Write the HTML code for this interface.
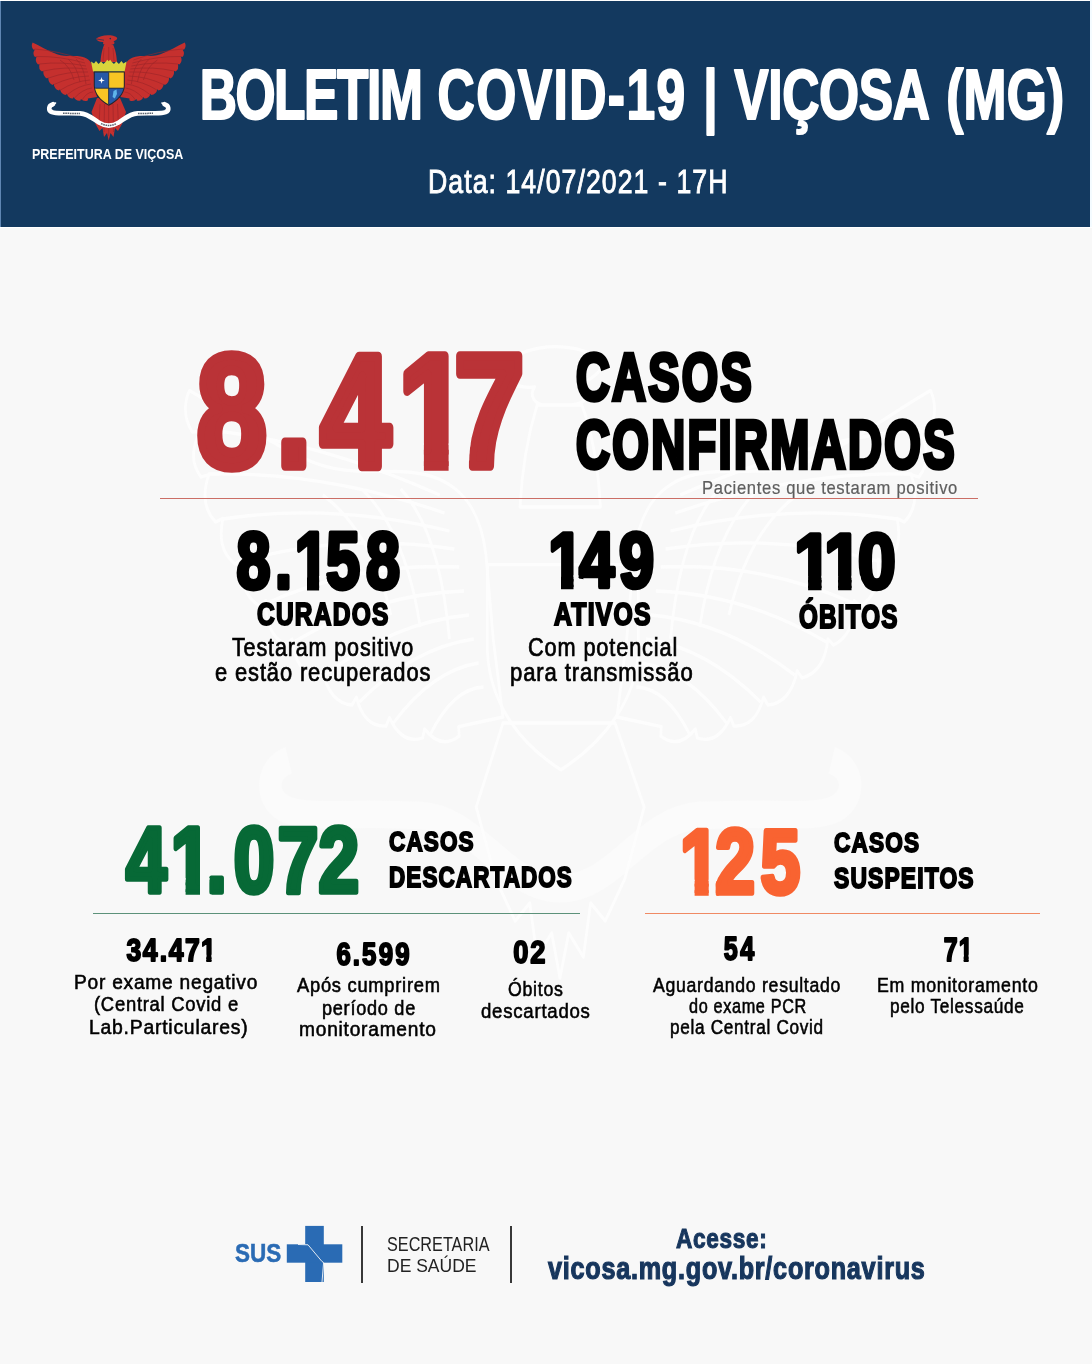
<!DOCTYPE html>
<html lang="pt-BR">
<head>
<meta charset="utf-8">
<title>Boletim COVID-19 | Viçosa (MG)</title>
<style>
html,body{margin:0;padding:0;}
body{width:1092px;height:1364px;position:relative;overflow:hidden;background:#f8f8f8;font-family:"Liberation Sans",sans-serif;font-weight:700;}
.t{position:absolute;white-space:nowrap;line-height:1;transform-origin:0 0;margin:0;padding:0;}
header,section,footer{position:absolute;left:0;top:0;width:1092px;height:0;}
.bar{position:absolute;left:1px;top:1px;width:1089px;height:225.7px;background:#13395f;}
.edge-l{position:absolute;left:0;top:1px;width:1px;height:226px;background:#5f86b2;}
.edge-t{position:absolute;left:0;top:0;width:1092px;height:1px;background:#ffffff;}
.edge-r{position:absolute;left:1090px;top:0;width:2px;height:227px;background:#f4fbff;}
.edge-b{position:absolute;left:0;top:226.7px;width:1092px;height:1.3px;background:#ffffff;}
.rule{position:absolute;height:1px;}
.vr{position:absolute;width:1.6px;background:#383838;}
svg{position:absolute;overflow:visible;}
svg.num{pointer-events:none;}
svg.num text{font-family:"Liberation Sans",sans-serif;font-weight:700;}
</style>
</head>
<body>
<header>
  <div class="bar"></div><div class="edge-l"></div><div class="edge-t"></div><div class="edge-r"></div><div class="edge-b"></div>
  <svg id="brasao" width="220" height="170" viewBox="0 0 220 170" style="left:0;top:0;">
  <defs>
    <path id="asaP" d="M 93.5 70 C 92.5 63 89 58.5 82 56.8 C 74 55 66 57.5 57 54.2 C 48 51 40 46 32.6 42.6 Q 30.7 46.2 33.2 49.5 L 34.8 49.4 Q 32.0 53.8 35.0 57.0 L 36.6 56.6 Q 34.5 61.6 38.0 64.5 L 39.5 63.9 Q 38.1 69.1 42.0 71.5 L 43.4 70.7 Q 42.7 76.3 47.0 78.5 L 48.3 77.6 Q 48.1 83.2 52.5 85.0 L 53.7 84.0 Q 54.3 89.4 59.0 90.5 L 60.0 89.3 Q 61.3 94.6 66.0 95.0 L 66.9 93.7 Q 68.5 98.7 73.0 98.5 L 73.7 97.1 Q 76.2 101.6 80.5 100.5 L 80.9 99.0 Q 84.3 102.5 88.0 100.2 L 87.9 98.6 L 97 97 L 95 84 Z"/>
    <path id="penasP" d="M 84.0 60.0 Q 58.6 50.8 34.7 49.0 M 85.0 63.0 Q 60.0 56.0 36.5 56.5 M 86.0 66.0 Q 62.0 61.2 39.5 64.0 M 87.0 69.0 Q 64.5 66.2 43.5 71.0 M 88.0 72.0 Q 67.5 71.2 48.5 78.0 M 89.0 76.0 Q 70.8 76.5 54.0 84.5 M 90.0 80.0 Q 74.5 81.2 60.5 90.0 M 91.0 84.0 Q 78.5 85.5 67.5 94.5 M 92.0 88.0 Q 82.5 89.2 74.5 98.0 M 93.0 92.0 Q 86.8 92.2 82.0 100.0 M 60 60 Q 70 66 74 80 M 68 59 Q 77 66 80 82 M 76 59 Q 84 66 86 84"/>
    <path id="caudaP" d="M 97 98 L 120 98 L 126 112 L 122 124 L 118 131 L 115 128 L 113.5 137 L 110.5 133 L 108.7 140.5 L 107 133 L 104 137 L 102.5 128 L 99.5 131 L 95.5 124 L 91.5 112 Z"/>
    <path id="escudoP" d="M 93.8 71.6 L 124.8 71.6 L 124.8 86 C 124.4 94 118 101 108.9 105.8 C 99.6 101 94.2 94 93.8 86 Z"/>
    <path id="cabecaP" d="M 100.5 62 C 101 54 102.5 49 104 45 L 113.2 45 C 115 49 116.5 54 117 62 Z M 96 38.8 C 99 36.5 104 35 109 35.3 C 113 35.5 116.5 36.6 117.2 38 C 117.6 39.5 115 40.5 113.5 41.5 C 115.5 42.5 114.5 44.8 111 45 L 105 45 C 103 44.5 102.5 43 103.5 42 C 100.5 42.3 97.5 41.5 96 38.8 Z"/>
    <path id="faixaP" d="M 53 104.2 C 48.5 105.5 47.8 110.2 52 112.2 C 56 113.8 62 113.2 70 113.2 L 80 113.4 C 88 113.8 93 119 99 122.6 C 105.5 126.6 112 126.6 118.5 122.6 C 124.5 119 129.5 113.8 137.5 113.4 L 147.5 113.2 C 155.5 113.2 161.5 113.8 165.5 112.2 C 169.7 110.2 169 105.5 164.5 104.2"/>
  </defs>
  <g id="asa">
    <use href="#asaP" fill="#c5302e"/>
    <use href="#penasP" fill="none" stroke="#9c2428" stroke-width="0.9" opacity="0.7"/>
  </g>
  <use href="#asa" transform="translate(217.4,0) scale(-1,1)"/>
  <!-- tail -->
  <use href="#caudaP" fill="#c5302e"/>
  <path d="M 100 104 L 99 126 M 104.5 104 L 104 132 M 108.7 104 L 108.7 136 M 113 104 L 113.5 132 M 117.5 104 L 118.5 126" stroke="#9c2428" stroke-width="0.9" fill="none" opacity="0.75"/>
  <!-- legs -->
  <path d="M 101.5 99 L 93.5 112 M 116 99 L 124 112" stroke="#c5302e" stroke-width="2.2" stroke-linecap="round" fill="none"/>
  <!-- neck & head -->
  <use href="#cabecaP" fill="#c5302e"/>
  <path d="M 104 48 L 103 61 M 108.7 47 L 108.7 61 M 113 48 L 114 61" stroke="#9c2428" stroke-width="0.8" fill="none" opacity="0.7"/>
  <path d="M 96.5 39 L 104 40.2" stroke="#14385f" stroke-width="0.7" fill="none"/>
  <circle cx="110.3" cy="38.6" r="0.8" fill="#14385f"/>
  <!-- crown -->
  <path d="M 91 61.5 L 94 63.5 L 96 61 L 98.5 64 L 101 61.5 L 103.5 64 L 106 61.5 L 107.2 59.8 L 108.7 61.2 L 110.2 59.8 L 111.4 61.5 L 113.9 64 L 116.4 61.5 L 118.9 64 L 121.4 61 L 123.4 63.5 L 126.6 61.5 L 124.6 71.5 L 93 71.5 Z" fill="#d9d43c"/>
  <!-- shield -->
  <use href="#escudoP" fill="#23252d"/>
  <clipPath id="esc"><path d="M 94.8 72.6 L 123.8 72.6 L 123.8 86 C 123.4 93.4 117.4 100 108.9 104.6 C 100.2 100 95.2 93.4 94.8 86 Z"/></clipPath>
  <g clip-path="url(#esc)">
    <rect x="94" y="72" width="14.7" height="16.2" fill="#2758a6"/>
    <rect x="108.7" y="72" width="16" height="16.2" fill="#f8c524"/>
    <rect x="94" y="88.2" width="14.7" height="18" fill="#f8c524"/>
    <rect x="108.7" y="88.2" width="16" height="18" fill="#2758a6"/>
    <path d="M 101.5 77 L 102.2 79.6 L 104.8 80.4 L 102.2 81.2 L 101.5 83.8 L 100.8 81.2 L 98.2 80.4 L 100.8 79.6 Z" fill="#ffffff"/>
    <path d="M 113.5 91 L 116.5 89.6 L 117 94 L 114.8 98.5 L 112.6 97 Z" fill="#5fb4ea"/>
    <path d="M 108.7 72 L 108.7 106 M 94 88.2 L 125 88.2" stroke="#20304a" stroke-width="0.9"/>
  </g>
  <!-- ribbon -->
  <use href="#faixaP" fill="none" stroke="#ffffff" stroke-width="4.6" stroke-linecap="round" stroke-linejoin="round"/>
  <path d="M 50.5 106.5 L 55.5 103 M 167 106.5 L 162 103" stroke="#ffffff" stroke-width="1.6" stroke-linecap="round"/>
  <path d="M 63 113.3 L 80 113.5 M 138 113.5 L 153 113.3 M 101 123.6 Q 108.7 127.3 116.5 123.6" stroke="#5b6470" stroke-width="1.5" fill="none" stroke-dasharray="1.6 0.7"/>
</svg>
<div class="t" style="left:32.39px;top:146.95px;font-size:14.49px;transform:scaleX(0.8608);color:#ffffff;">PREFEITURA DE VIÇOSA</div>
<svg class="num" width="1092" height="1364" viewBox="0 0 1092 1364" style="left:0;top:0;"><text transform="scale(0.7377,1)" x="270.61 319.11 371.53 412.26 456.92 497.66 515.13 536.09 593.22 645.56 701.81 750.29 771.59 823.94 849.11 889.85 910.81 953.44 974.40 995.30 1041.39 1060.29 1110.23 1164.06 1210.15 1231.11 1282.66 1306.23 1364.72 1419.36" y="119.25" font-size="69.86" fill="#ffffff" stroke="#ffffff" stroke-width="2.10" stroke-linejoin="round">BOLETIM COVID-19 | VIÇOSA (MG)</text></svg>
<div class="t" style="left:428.33px;top:164.93px;font-size:33.33px;transform:scaleX(0.7995);color:#ffffff;font-weight:400;-webkit-text-stroke:0.028em #ffffff;letter-spacing:0.04em;">Data: 14/07/2021 - 17H</div>
</header>
<svg id="marca" width="1092" height="1364" viewBox="0 0 1092 1364" style="left:0;top:0;" aria-hidden="true">
  <g transform="translate(30.6,135) scale(4.87,6.0)" fill="none" stroke="#ffffff" stroke-width="0.55" stroke-linejoin="round" opacity="0.75">
    <use href="#asaP"/><use href="#penasP"/>
    <g transform="translate(217.4,0) scale(-1,1)"><use href="#asaP"/><use href="#penasP"/></g>
    <use href="#caudaP"/><use href="#escudoP"/><use href="#cabecaP"/>
    <use href="#faixaP" stroke-width="4.6" opacity="0.5"/>
  </g>
</svg>
<section id="confirmados">
<svg class="num" width="1092" height="1364" viewBox="0 0 1092 1364" style="left:0;top:0;"><clipPath id="c8417"><path clip-rule="evenodd" d="M0 0H1092V1364H0ZM400.6 443.5H423.9V473.1H400.6ZM448.6 443.5L470.3 443.5L470.3 441.8L470.3 444.0L470.2 446.2L469.9 448.4L469.6 450.6L469.6 452.8L469.3 455.0L469.3 457.2L469.3 459.5L468.9 461.7L468.9 463.9L468.9 466.1L468.9 468.3L469.6 470.5L470.3 472.7L470.3 473.1L448.6 473.1Z"/></clipPath><g clip-path="url(#c8417)"><text transform="scale(0.7797,1)" x="252.80 354.70 411.34 511.11 583.03" y="466.28" font-size="160.52" fill="#ba3337" stroke="#ba3337" stroke-width="9.63" stroke-linejoin="round">8.417</text></g></svg>
<div class="t" style="left:575.73px;top:343.45px;font-size:67.40px;transform:scaleX(0.6942);color:#000000;-webkit-text-stroke:0.065em #000000;letter-spacing:0.05em;">CASOS</div>
<div class="t" style="left:575.73px;top:411.39px;font-size:67.92px;transform:scaleX(0.6922);color:#000000;-webkit-text-stroke:0.065em #000000;letter-spacing:0.05em;">CONFIRMADOS</div>
<div class="t" style="left:701.75px;top:480.32px;font-size:17.86px;transform:scaleX(0.9300);color:#5e5e5e;font-weight:400;-webkit-text-stroke:0.012em #5e5e5e;letter-spacing:0.04em;">Pacientes que testaram positivo</div>
  <div class="rule" style="left:160px;top:498px;width:818px;background:#cb6e66;"></div>
</section>
<section id="resumo">
<svg class="num" width="1092" height="1364" viewBox="0 0 1092 1364" style="left:0;top:0;"><clipPath id="c8158"><path clip-rule="evenodd" d="M0 0H1092V1364H0ZM294.7 576.1H307.0V592.4H294.7ZM319.1 576.1L326.3 576.1L326.3 576.0L326.5 577.1L326.6 578.2L326.9 579.2L327.2 580.3L327.5 581.4L328.1 582.5L328.6 583.6L329.2 584.7L329.8 585.8L330.7 586.9L330.7 587.9L330.7 589.0L330.7 590.1L330.7 591.2L330.7 592.4L319.1 592.4Z"/></clipPath><g clip-path="url(#c8158)"><text transform="scale(0.7715,1)" x="306.50 356.33 381.97 422.44 474.55" y="588.04" font-size="79.09" fill="#000000" stroke="#000000" stroke-width="4.75" stroke-linejoin="round">8.158</text></g></svg>
<div class="t" style="left:256.85px;top:600.26px;font-size:30.78px;transform:scaleX(0.7970);color:#000000;-webkit-text-stroke:0.065em #000000;letter-spacing:0.05em;">CURADOS</div>
<div class="t" style="left:231.88px;top:635.40px;font-size:25.00px;transform:scaleX(0.8611);color:#000000;font-weight:400;-webkit-text-stroke:0.028em #000000;letter-spacing:0.04em;">Testaram positivo</div>
<div class="t" style="left:214.84px;top:660.40px;font-size:25.00px;transform:scaleX(0.8760);color:#000000;font-weight:400;-webkit-text-stroke:0.028em #000000;letter-spacing:0.04em;">e estão recuperados</div>
<svg class="num" width="1092" height="1364" viewBox="0 0 1092 1364" style="left:0;top:0;"><clipPath id="c149"><path clip-rule="evenodd" d="M0 0H1092V1364H0ZM548.3 575.3H561.0V591.6H548.3ZM573.5 575.3L578.5 575.3L578.5 575.2L578.5 576.3L578.5 577.4L579.1 578.5L585.4 579.6L585.4 580.7L585.4 581.7L585.4 582.8L585.4 583.9L585.4 585.0L585.4 586.1L585.4 587.2L585.4 588.2L585.4 589.3L585.4 590.4L585.4 591.6L573.5 591.6Z"/></clipPath><g clip-path="url(#c149)"><text transform="scale(0.8026,1)" x="683.10 721.69 771.36" y="587.25" font-size="78.70" fill="#000000" stroke="#000000" stroke-width="4.72" stroke-linejoin="round">149</text></g></svg>
<div class="t" style="left:553.80px;top:600.26px;font-size:30.78px;transform:scaleX(0.8052);color:#000000;-webkit-text-stroke:0.065em #000000;letter-spacing:0.05em;">ATIVOS</div>
<div class="t" style="left:527.54px;top:635.00px;font-size:25.00px;transform:scaleX(0.8690);color:#000000;font-weight:400;-webkit-text-stroke:0.028em #000000;letter-spacing:0.04em;">Com potencial</div>
<div class="t" style="left:509.90px;top:660.10px;font-size:25.00px;transform:scaleX(0.8835);color:#000000;font-weight:400;-webkit-text-stroke:0.028em #000000;letter-spacing:0.04em;">para transmissão</div>
<svg class="num" width="1092" height="1364" viewBox="0 0 1092 1364" style="left:0;top:0;"><clipPath id="c110"><path clip-rule="evenodd" d="M0 0H1092V1364H0ZM794.6 575.8H808.1V592.0H794.6ZM821.5 575.8H838.1V592.0H821.5ZM851.5 575.8L860.2 575.8L860.2 575.7L860.5 576.8L860.9 577.9L861.2 579.0L861.6 580.0L861.9 581.1L862.4 582.2L863.1 583.3L863.8 584.3L864.2 585.4L864.2 586.5L864.2 587.6L864.2 588.6L864.2 589.7L864.2 590.8L864.2 592.0L851.5 592.0Z"/></clipPath><g clip-path="url(#c110)"><text transform="scale(0.8664,1)" x="916.83 951.46 990.20" y="587.67" font-size="78.31" fill="#000000" stroke="#000000" stroke-width="4.70" stroke-linejoin="round">110</text></g></svg>
<div class="t" style="left:798.76px;top:600.77px;font-size:32.47px;transform:scaleX(0.7460);color:#000000;-webkit-text-stroke:0.065em #000000;letter-spacing:0.05em;">ÓBITOS</div>
</section>
<section id="descartados">
<svg class="num" width="1092" height="1364" viewBox="0 0 1092 1364" style="left:0;top:0;"><clipPath id="c41072"><path clip-rule="evenodd" d="M0 0H1092V1364H0ZM171.2 878.0H185.6V896.5H171.2ZM200.0 878.0L209.6 878.0L209.6 877.6L209.6 878.9L209.6 880.2L209.6 881.5L209.6 882.7L209.6 884.0L209.6 885.3L209.6 886.5L209.6 887.8L209.6 889.1L209.6 890.3L209.6 891.6L209.6 892.9L209.9 894.1L213.5 895.4L213.5 896.5L200.0 896.5Z"/></clipPath><g clip-path="url(#c41072)"><text transform="scale(0.7915,1)" x="159.23 215.80 261.00 295.38 350.79 402.37" y="891.71" font-size="92.21" fill="#076936" stroke="#076936" stroke-width="5.53" stroke-linejoin="round">41.072</text></g></svg>
<div class="t" style="left:389.27px;top:827.77px;font-size:28.05px;transform:scaleX(0.8035);color:#000000;-webkit-text-stroke:0.065em #000000;letter-spacing:0.05em;">CASOS</div>
<div class="t" style="left:388.71px;top:861.78px;font-size:29.74px;transform:scaleX(0.7546);color:#000000;-webkit-text-stroke:0.065em #000000;letter-spacing:0.05em;">DESCARTADOS</div>
<svg class="num" width="1092" height="1364" viewBox="0 0 1092 1364" style="left:0;top:0;"><clipPath id="c34471"><path clip-rule="evenodd" d="M0 0H1092V1364H0ZM199.8 954.8H206.3V963.6H199.8ZM211.5 954.8H217.7V963.6H211.5Z"/></clipPath><g clip-path="url(#c34471)"><text transform="scale(0.8236,1)" x="153.51 173.22 193.84 205.03 224.56 243.93" y="960.61" font-size="32.21" fill="#000000" stroke="#000000" stroke-width="1.93" stroke-linejoin="round">34.471</text></g></svg>
<div class="t" style="left:74.06px;top:972.26px;font-size:20.28px;transform:scaleX(0.9447);color:#000000;font-weight:400;-webkit-text-stroke:0.028em #000000;letter-spacing:0.04em;">Por exame negativo</div>
<div class="t" style="left:93.68px;top:994.36px;font-size:20.28px;transform:scaleX(0.9093);color:#000000;font-weight:400;-webkit-text-stroke:0.028em #000000;letter-spacing:0.04em;">(Central Covid e</div>
<div class="t" style="left:88.95px;top:1016.66px;font-size:20.28px;transform:scaleX(0.9546);color:#000000;font-weight:400;-webkit-text-stroke:0.028em #000000;letter-spacing:0.04em;">Lab.Particulares)</div>
<svg class="num" width="1092" height="1364" viewBox="0 0 1092 1364" style="left:0;top:0;"><g><text transform="scale(0.8054,1)" x="417.73 437.97 449.56 470.13 490.80" y="965.42" font-size="32.08" fill="#000000" stroke="#000000" stroke-width="1.92" stroke-linejoin="round">6.599</text></g></svg>
<div class="t" style="left:297.38px;top:974.76px;font-size:20.28px;transform:scaleX(0.9043);color:#000000;font-weight:400;-webkit-text-stroke:0.028em #000000;letter-spacing:0.04em;">Após cumprirem</div>
<div class="t" style="left:322.09px;top:997.56px;font-size:20.28px;transform:scaleX(0.8947);color:#000000;font-weight:400;-webkit-text-stroke:0.028em #000000;letter-spacing:0.04em;">período de</div>
<div class="t" style="left:299.24px;top:1019.36px;font-size:20.28px;transform:scaleX(0.9451);color:#000000;font-weight:400;-webkit-text-stroke:0.028em #000000;letter-spacing:0.04em;">monitoramento</div>
<svg class="num" width="1092" height="1364" viewBox="0 0 1092 1364" style="left:0;top:0;"><g><text transform="scale(0.8498,1)" x="604.00 624.02" y="962.52" font-size="32.08" fill="#000000" stroke="#000000" stroke-width="1.92" stroke-linejoin="round">02</text></g></svg>
<div class="t" style="left:508.18px;top:978.86px;font-size:20.28px;transform:scaleX(0.8758);color:#000000;font-weight:400;-webkit-text-stroke:0.028em #000000;letter-spacing:0.04em;">Óbitos</div>
<div class="t" style="left:481.24px;top:1000.66px;font-size:20.28px;transform:scaleX(0.9191);color:#000000;font-weight:400;-webkit-text-stroke:0.028em #000000;letter-spacing:0.04em;">descartados</div>
  <div class="rule" style="left:93px;top:912.6px;width:487px;background:#5d927a;"></div>
</section>
<section id="suspeitos">
<svg class="num" width="1092" height="1364" viewBox="0 0 1092 1364" style="left:0;top:0;"><clipPath id="c125"><path clip-rule="evenodd" d="M0 0H1092V1364H0ZM680.4 879.7H694.6V898.1H680.4ZM708.7 879.7L717.2 879.7L717.2 879.3L716.7 880.6L716.2 881.9L715.8 883.1L715.8 884.4L715.8 885.7L715.8 886.9L715.8 888.2L715.8 889.4L715.8 890.7L715.8 892.0L715.8 893.2L715.8 894.5L716.2 895.7L722.0 897.0L722.0 898.1L708.7 898.1Z"/></clipPath><g clip-path="url(#c125)"><text transform="scale(0.7796,1)" x="872.32 917.32 975.48" y="893.33" font-size="91.69" fill="#f96331" stroke="#f96331" stroke-width="5.50" stroke-linejoin="round">125</text></g></svg>
<div class="t" style="left:833.57px;top:827.94px;font-size:28.31px;transform:scaleX(0.7999);color:#000000;-webkit-text-stroke:0.065em #000000;letter-spacing:0.05em;">CASOS</div>
<div class="t" style="left:834.03px;top:864.37px;font-size:28.96px;transform:scaleX(0.7895);color:#000000;-webkit-text-stroke:0.065em #000000;letter-spacing:0.05em;">SUSPEITOS</div>
<svg class="num" width="1092" height="1364" viewBox="0 0 1092 1364" style="left:0;top:0;"><g><text transform="scale(0.7742,1)" x="934.73 956.15" y="960.30" font-size="32.50" fill="#000000" stroke="#000000" stroke-width="1.95" stroke-linejoin="round">54</text></g></svg>
<div class="t" style="left:653.27px;top:975.06px;font-size:20.28px;transform:scaleX(0.8722);color:#000000;font-weight:400;-webkit-text-stroke:0.028em #000000;letter-spacing:0.04em;">Aguardando resultado</div>
<div class="t" style="left:689.11px;top:996.46px;font-size:20.28px;transform:scaleX(0.8013);color:#000000;font-weight:400;-webkit-text-stroke:0.028em #000000;letter-spacing:0.04em;">do exame PCR</div>
<div class="t" style="left:670.24px;top:1017.36px;font-size:20.28px;transform:scaleX(0.8485);color:#000000;font-weight:400;-webkit-text-stroke:0.028em #000000;letter-spacing:0.04em;">pela Central Covid</div>
<svg class="num" width="1092" height="1364" viewBox="0 0 1092 1364" style="left:0;top:0;"><clipPath id="c71"><path clip-rule="evenodd" d="M0 0H1092V1364H0ZM957.4 954.7H963.7V963.6H957.4ZM968.6 954.7H974.5V963.6H968.6Z"/></clipPath><g clip-path="url(#c71)"><text transform="scale(0.7577,1)" x="1245.57 1265.23" y="960.61" font-size="32.93" fill="#000000" stroke="#000000" stroke-width="1.98" stroke-linejoin="round">71</text></g></svg>
<div class="t" style="left:876.55px;top:975.06px;font-size:20.28px;transform:scaleX(0.8772);color:#000000;font-weight:400;-webkit-text-stroke:0.028em #000000;letter-spacing:0.04em;">Em monitoramento</div>
<div class="t" style="left:890.24px;top:996.46px;font-size:20.28px;transform:scaleX(0.8503);color:#000000;font-weight:400;-webkit-text-stroke:0.028em #000000;letter-spacing:0.04em;">pelo Telessaúde</div>
  <div class="rule" style="left:644.6px;top:912.6px;width:395px;background:#f08a64;"></div>
</section>
<footer>
  <svg width="58" height="58" viewBox="0 0 58 58" style="left:286px;top:1225px;">
    <rect x="19.2" y="0.9" width="18.6" height="56.1" fill="#2a6bb4"/>
    <rect x="0.8" y="19.3" width="55.5" height="18.4" fill="#2a6bb4"/>
    <path d="M12 19.5 L22 19.8 L36 36.5 L37.6 37.5 L36 57" fill="none" stroke="#f8f8f8" stroke-width="0.9"/>
  </svg>
  <div class="vr" style="left:361.1px;top:1226px;height:57px;"></div>
  <div class="vr" style="left:510px;top:1226px;height:57px;"></div>
<div class="t" style="left:235.45px;top:1241.44px;font-size:25.62px;transform:scaleX(0.8781);color:#2a6bb4;-webkit-text-stroke:0.02em #2a6bb4;">SUS</div>
<div class="t" style="left:387.37px;top:1234.70px;font-size:19.30px;transform:scaleX(0.8413);color:#222222;font-weight:400;">SECRETARIA</div>
<div class="t" style="left:386.70px;top:1256.82px;font-size:18.45px;transform:scaleX(0.9493);color:#222222;font-weight:400;">DE SAÚDE</div>
<div class="t" style="left:676.20px;top:1224.80px;font-size:27.40px;transform:scaleX(0.8263);color:#17365d;-webkit-text-stroke:0.04em #17365d;letter-spacing:0.03em;">Acesse:</div>
<div class="t" style="left:547.93px;top:1252.78px;font-size:30.55px;transform:scaleX(0.8245);color:#17365d;-webkit-text-stroke:0.04em #17365d;letter-spacing:0.03em;">vicosa.mg.gov.br/coronavirus</div>
</footer>
</body>
</html>
